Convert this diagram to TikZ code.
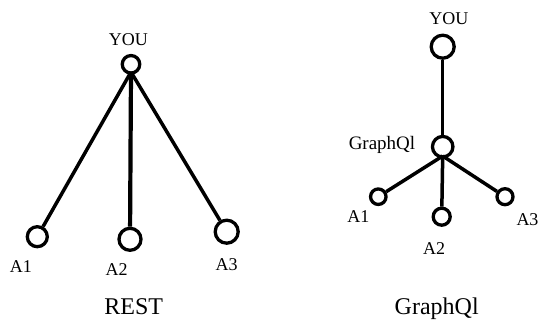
\documentclass[tikz,border=0pt]{standalone}
\usepackage{fontspec}
\setmainfont{Liberation Serif}
\begin{document}
\begin{tikzpicture}[x=1pt,y=-1pt,
  vtx/.style={circle,draw,line width=3.3pt,inner sep=0pt,minimum size=#1},
  vtx/.default=18pt,
  edge/.style={line width=3.5pt},
  lbl/.style={font=\fontsize{18}{18}\selectfont,inner sep=0pt,anchor=base},
  biglbl/.style={font=\fontsize{19}{19}\selectfont,inner sep=0pt,anchor=base},
  captext/.style={font=\fontsize{24}{24}\selectfont,inner sep=0pt,anchor=base}]
\useasboundingbox (0,0) rectangle (539,320);
% REST
\node[vtx=17.5pt] (ry) at (131,64.3) {};
\node[vtx=20pt] (r1) at (37.3,236.7) {};
\node[vtx=22pt] (r2) at (130,239.3) {};
\node[vtx=23pt] (r3) at (226.7,231.7) {};
\coordinate (rj) at (131,72);
\draw[edge] (rj) -- (r1);
\draw[line width=4.2pt] (rj) -- (r2);
\draw[edge] (rj) -- (r3);
\node[lbl] (tyou) at (128.3,45.3) {YOU};
\node[lbl] (t1) at (20.8,272.7) {A1};
\node[lbl] (t2) at (116.7,275.7) {A2};
\node[lbl] (t3) at (226.7,270.7) {A3};
\node[captext] (trest) at (133.8,314.5) {REST};
% GraphQl
\node[vtx=23pt] (gy) at (442.7,46.7) {};
\node[vtx=20.5pt] (gq) at (442.7,146.7) {};
\node[vtx=15.5pt] (g1) at (378.3,196.7) {};
\node[vtx=17pt] (g2) at (441.7,216.7) {};
\node[vtx=16pt] (g3) at (505,196.7) {};
\coordinate (gj) at (442.7,156);
\draw[edge] (gy) -- (gq);
\draw[edge] (gj) -- (g1);
\draw[edge] (gj) -- (g2);
\draw[edge] (gj) -- (g3);
\node[lbl] (gtyou) at (448.8,24.3) {YOU};
\node[biglbl] (gtq) at (382,149.5) {GraphQl};
\node[lbl] (gt1) at (358.3,222.7) {A1};
\node[lbl] (gt2) at (434.2,254.7) {A2};
\node[lbl] (gt3) at (527.5,225.7) {A3};
\node[captext] (tgq) at (436.7,314.5) {GraphQl};
\end{tikzpicture}
\end{document}
